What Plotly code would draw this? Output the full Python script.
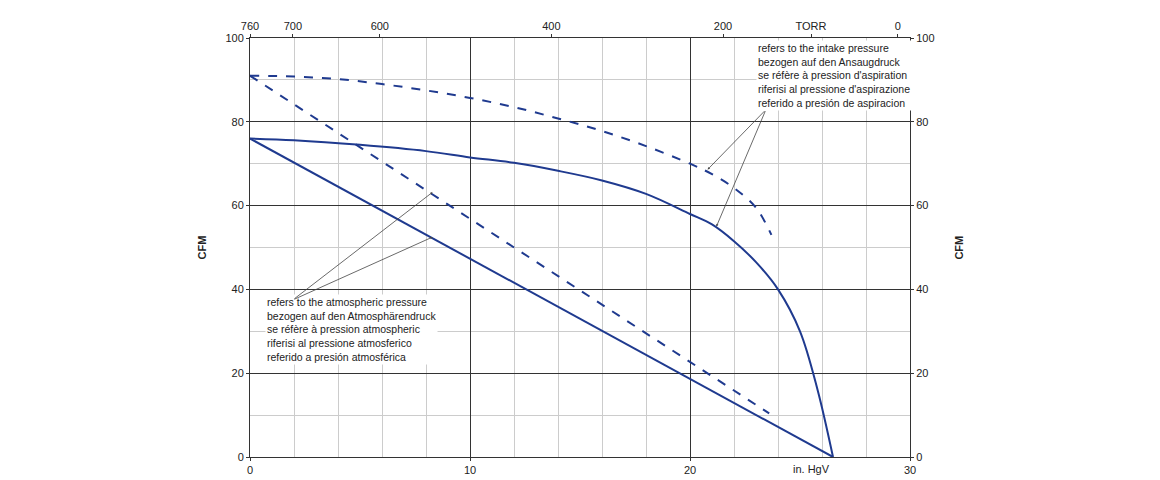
import plotly.graph_objects as go

# data
atm_solid_x = [0, 26.5]
atm_solid_y = [76, 0]
atm_dash_x = [0, 23.6]
atm_dash_y = [91, 10.4]

intake_solid_x = [0, 2, 5, 8, 10, 12, 14, 16, 18, 20, 21, 22, 23, 24, 25, 25.8, 26.5]
intake_solid_y = [76, 75.6, 74.5, 73, 71.5, 70.2, 68.3, 66, 62.8, 58, 55.5, 51.5, 46.5, 40, 30, 16, 0]
intake_dash_x = [0, 2, 4, 6, 8, 10, 12, 14, 16, 18, 20, 21, 22, 23, 23.7]
intake_dash_y = [91, 90.8, 90.2, 89, 87.5, 85.7, 83.5, 80.8, 77.8, 74.2, 70, 67.5, 64.2, 59.5, 53]

torr_pos = [0, 1.95, 5.9, 13.7, 21.5, 25.5, 29.45]
torr_text = ["760", "700", "600", "400", "200", "TORR", "0"]

blue = "#1f3a8f"
fnt = dict(family="Liberation Sans, Arial", size=11, color="#222")

fig = go.Figure()
fig.add_trace(go.Scatter(x=atm_solid_x, y=atm_solid_y, mode="lines", line=dict(color=blue, width=2)))
fig.add_trace(go.Scatter(x=atm_dash_x, y=atm_dash_y, mode="lines", line=dict(color=blue, width=2, dash="dash")))
fig.add_trace(go.Scatter(x=intake_solid_x, y=intake_solid_y, mode="lines", line=dict(color=blue, width=2, shape="spline")))
fig.add_trace(go.Scatter(x=intake_dash_x, y=intake_dash_y, mode="lines", line=dict(color=blue, width=2, dash="dash", shape="spline")))
# invisible traces to activate the top and right axes
fig.add_trace(go.Scatter(x=[0, 30], y=[None, None], xaxis="x2", showlegend=False))
fig.add_trace(go.Scatter(x=[0], y=[None], yaxis="y2", showlegend=False))

ax_common = dict(showline=True, linecolor="#333", linewidth=1, zeroline=False,
                 ticks="outside", ticklen=3, tickcolor="#333", tickfont=fnt)
fig.update_layout(
    width=1160, height=480, showlegend=False,
    plot_bgcolor="white", paper_bgcolor="white",
    margin=dict(l=242, r=258, t=28, b=31),
    xaxis=dict(range=[0, 30], tickvals=[0, 10, 20, 30], gridcolor="#333", gridwidth=1,
               minor=dict(dtick=2, gridcolor="#ccc", showgrid=True), mirror=True, **ax_common),
    xaxis2=dict(range=[0, 30], overlaying="x", side="top", tickvals=torr_pos, ticktext=torr_text,
                showgrid=False, **ax_common),
    yaxis=dict(range=[0, 100], dtick=20, gridcolor="#333", gridwidth=1,
               minor=dict(dtick=10, gridcolor="#ccc", showgrid=True), mirror=True, **ax_common),
    yaxis2=dict(range=[0, 100], dtick=20, overlaying="y", side="right", showgrid=False, **ax_common),
)

fig.add_annotation(xref="paper", yref="paper", x=-0.085, y=0.5, text="<b>CFM</b>", textangle=-90,
                   showarrow=False, font=fnt)
fig.add_annotation(xref="paper", yref="paper", x=1.085, y=0.5, text="<b>CFM</b>", textangle=-90,
                   showarrow=False, font=fnt)
fig.add_annotation(x=25.5, y=0, yshift=-12, text="in. HgV", showarrow=False, font=fnt)

intake_txt = ("refers to the intake pressure<br>bezogen auf den Ansaugdruck<br>se réfère à pression d'aspiration"
              "<br>riferisi al pressione d'aspirazione<br>referido a presión de aspiracion")
atm_txt = ("refers to the atmospheric pressure<br>bezogen auf den Atmosphärendruck<br>se réfère à pression atmospheric"
           "<br>riferisi al pressione atmosferico<br>referido a presión atmosférica")
fig.add_annotation(x=23.0, y=91, text=intake_txt, showarrow=False, align="left", xanchor="left",
                   font=dict(family="Liberation Sans Narrow, Liberation Sans", size=10.5, color="#222"),
                   bgcolor="white")
fig.add_annotation(x=0.7, y=30.5, text=atm_txt, showarrow=False, align="left", xanchor="left",
                   font=dict(family="Liberation Sans Narrow, Liberation Sans", size=10.5, color="#222"),
                   bgcolor="white")

for (x0, y0, x1, y1) in [(23.45, 82.9, 20.8, 68.6), (23.45, 82.9, 21.2, 55.0),
                         (1.95, 37.5, 8.3, 63.2), (1.95, 37.5, 8.3, 52.5)]:
    fig.add_annotation(x=x1, y=y1, ax=x0, ay=y0, axref="x", ayref="y", showarrow=True,
                       arrowhead=2, arrowsize=0.6, arrowwidth=0.8, arrowcolor="#444", text="")

fig.write_html("out.html")
